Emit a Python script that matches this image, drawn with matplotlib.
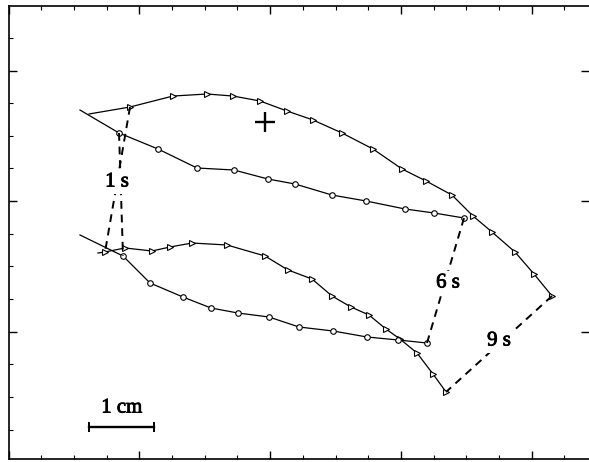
import numpy as np
import matplotlib
matplotlib.use("Agg")
from matplotlib import pyplot as plt
from matplotlib import patheffects

# Tracked positions in cm, one marker every 0.5 s.
# Run A (upper) - tip track (triangles) and base track (circles)
A_TRI_X = [1.231, 1.858, 2.515, 3.035, 3.433, 3.846, 4.258, 4.656, 5.099,
           5.573, 6.017, 6.384, 6.781, 7.102, 7.393, 7.745, 8.035, 8.310]
A_TRI_Y = [5.334, 5.441, 5.609, 5.640, 5.609, 5.533, 5.380, 5.242, 5.043,
           4.798, 4.492, 4.308, 4.093, 3.772, 3.527, 3.220, 2.884, 2.547]
A_CIRC_X = [1.093, 1.690, 2.286, 2.882, 3.448, 3.968, 4.381, 4.946, 5.466,
            6.063, 6.506, 6.965]
A_CIRC_Y = [5.395, 5.043, 4.798, 4.507, 4.476, 4.338, 4.262, 4.093, 4.002,
            3.879, 3.818, 3.741]

# Run B (lower)
B_TRI_X = [1.368, 1.476, 1.781, 2.194, 2.469, 2.806, 3.341, 3.922, 4.274,
           4.641, 4.946, 5.237, 5.512, 5.772, 5.986, 6.246, 6.491, 6.690]
B_TRI_Y = [3.205, 3.221, 3.282, 3.236, 3.297, 3.358, 3.328, 3.159, 2.945,
           2.807, 2.547, 2.378, 2.256, 2.041, 1.888, 1.674, 1.352, 1.077]
B_CIRC_X = [1.093, 1.751, 2.164, 2.668, 3.096, 3.509, 3.983, 4.442, 4.962,
            5.482, 5.956, 6.399]
B_CIRC_Y = [3.481, 3.159, 2.746, 2.531, 2.363, 2.286, 2.225, 2.072, 2.011,
            1.919, 1.873, 1.827]

CENTRE = (3.922, 5.211)

# time labels: (text, x, y)
TIME_LABELS = [("1 s", 1.659, 4.292), ("6 s", 6.720, 2.746), ("9 s", 7.500, 1.858)]

SCALE_X = [1.231, 2.231]
SCALE_Y = 0.541

fig = plt.figure(figsize=(5.89, 4.62), dpi=100)
ax = fig.add_axes([8.5 / 589, 3 / 462, 580.5 / 589, 453 / 462])
ax.set_xlim(0, 580.5 / 65.4)
ax.set_ylim(3.3 / 65.3, 456.3 / 65.3)

line_kw = dict(color="black", linewidth=0.9, markerfacecolor="white",
               markeredgecolor="black", markeredgewidth=0.8)

for tx, ty, cx, cy in [(A_TRI_X, A_TRI_Y, A_CIRC_X, A_CIRC_Y),
                       (B_TRI_X, B_TRI_Y, B_CIRC_X, B_CIRC_Y)]:
    ax.plot(tx, ty, marker=">", markersize=4.5, markevery=list(range(1, len(tx))), **line_kw)
    ax.plot(cx, cy, marker="o", markersize=4, markevery=list(range(1, len(cx))), **line_kw)

# dashed lines joining corresponding instants of the two runs
dash_kw = dict(color="black", linewidth=1.4, linestyle=(0, (4, 3)))
ax.plot([A_TRI_X[1], B_TRI_X[1]], [A_TRI_Y[1], B_TRI_Y[1]], **dash_kw)
ax.plot([A_CIRC_X[1], B_CIRC_X[1]], [A_CIRC_Y[1], B_CIRC_Y[1]], **dash_kw)
ax.plot([A_CIRC_X[-1], B_CIRC_X[-1]], [A_CIRC_Y[-1], B_CIRC_Y[-1]], **dash_kw)
ax.plot([A_TRI_X[-1], B_TRI_X[-1]], [A_TRI_Y[-1], B_TRI_Y[-1]], **dash_kw)

thick = [patheffects.withStroke(linewidth=0.6, foreground="black")]
for txt, x, y in TIME_LABELS:
    ax.text(x, y, txt, ha="center", va="center", fontsize=15, family="Liberation Serif",
            bbox=dict(facecolor="white", edgecolor="none", pad=1.5), zorder=5,
            path_effects=thick)

ax.plot(*CENTRE, marker="+", markersize=14, markeredgewidth=1.7, color="black")

# scale bar
ax.plot(SCALE_X, [SCALE_Y, SCALE_Y], color="black", linewidth=1.7)
ax.plot(SCALE_X, [SCALE_Y, SCALE_Y], color="black", linestyle="none", marker="|",
        markersize=7, markeredgewidth=1.4)
ax.text(np.mean(SCALE_X), SCALE_Y + 0.29, "1 cm", ha="center", va="center",
        fontsize=15, family="Liberation Serif", path_effects=thick)

ax.set_xticks(np.arange(0, 9, 2))
ax.set_xticks(np.arange(0, 9, 0.5), minor=True)
ax.set_yticks(np.arange(2, 7, 2))
ax.set_yticks(np.arange(0.5, 7, 0.5), minor=True)
ax.set_xticklabels([])
ax.set_yticklabels([])
ax.tick_params(which="major", direction="in", length=6, width=1.0,
               top=True, bottom=True, left=True, right=True)
ax.tick_params(which="minor", direction="in", length=3, width=0.8,
               top=True, bottom=True, left=True, right=False)
ax.spines["right"].set_visible(False)
for s in ["left", "top", "bottom"]:
    ax.spines[s].set_linewidth(1.2)

plt.savefig("out.png", dpi=100)
